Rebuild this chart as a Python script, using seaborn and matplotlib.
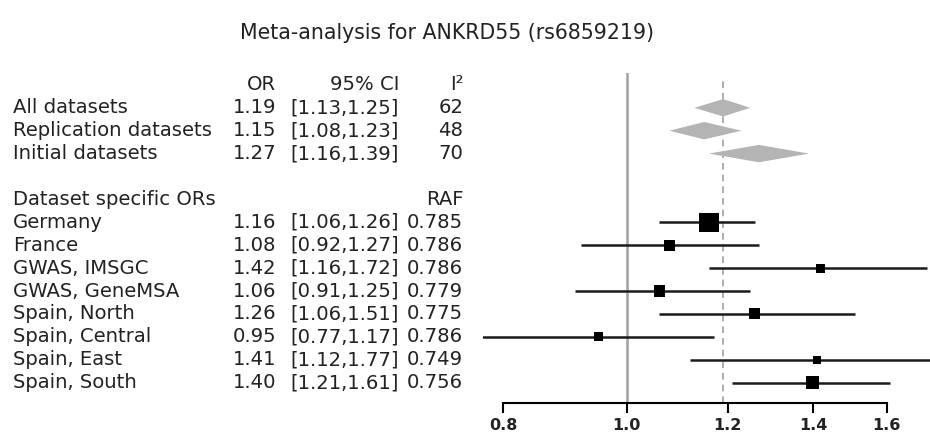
import matplotlib
matplotlib.use("Agg")
import matplotlib.pyplot as plt
import matplotlib.transforms as mtransforms
from matplotlib.ticker import NullLocator
import numpy as np
import pandas as pd
import seaborn as sns

# summary estimates (diamonds)
summary_labels = ["All datasets", "Replication datasets", "Initial datasets"]
summary_or = [1.19, 1.15, 1.27]
summary_lo = [1.13, 1.08, 1.16]
summary_hi = [1.25, 1.23, 1.39]
summary_i2 = [62, 48, 70]

# dataset specific estimates (boxes)
study_labels = ["Germany", "France", "GWAS, IMSGC", "GWAS, GeneMSA",
                "Spain, North", "Spain, Central", "Spain, East", "Spain, South"]
study_or = [1.16, 1.08, 1.42, 1.06, 1.26, 0.95, 1.41, 1.40]
study_lo = [1.06, 0.92, 1.16, 0.91, 1.06, 0.77, 1.12, 1.21]
study_hi = [1.26, 1.27, 1.72, 1.25, 1.51, 1.17, 1.77, 1.61]
study_raf = [0.785, 0.786, 0.786, 0.779, 0.775, 0.786, 0.749, 0.756]
study_weight = [32.3, 10.8, 7.2, 10.8, 10.8, 7.2, 5.7, 15.1]  # relative weight (%)

xticks = [0.8, 1.0, 1.2, 1.4, 1.6]

sns.set_theme(style="white")
plt.rcParams['font.family'] = ['DejaVu Sans']

fig = plt.figure(figsize=(9.3, 4.37), dpi=100)
ax = fig.add_axes([0.5194, 0.0778, 0.4806, 0.7552])

summary_rows = np.arange(1, 1 + len(summary_labels))
study_rows = np.arange(6, 6 + len(study_labels))

# reference lines
ax.axvline(1.0, color="#a0a0a0", lw=1.8, zorder=1)
ax.axvline(summary_or[0], ymax=0.985, color="#a0a0a0", lw=1.2, ls=(0, (4, 3)), zorder=1)

# diamonds
for r, o, lo, hi in zip(summary_rows, summary_or, summary_lo, summary_hi):
    h = 0.38
    ax.fill([lo, o, hi, o], [r, r - h, r, r + h], color="#b4b4b4", lw=0, zorder=2)

# CI lines
ax.hlines(study_rows, study_lo, study_hi, color="#1a1a1a", lw=1.8, zorder=3)

df = pd.DataFrame({"OR": study_or, "row": study_rows, "weight": study_weight})
sns.scatterplot(data=df, x="OR", y="row", size="weight", sizes=(0, 190),
                size_norm=(0, max(study_weight)), marker="s", color="black",
                edgecolor="black", linewidth=0, legend=False, ax=ax, zorder=4)

ax.set_xscale("log")
ax.set_xlim(0.771, 1.73)
ax.set_ylim(13.89, -0.52)
ax.set_xticks(xticks)
ax.set_xticklabels([f"{t:.1f}" for t in xticks], fontweight="bold")
ax.xaxis.set_minor_locator(NullLocator())
ax.set_yticks([])
ax.set_xlabel("")
ax.set_ylabel("")
for s in ["left", "right", "top"]:
    ax.spines[s].set_visible(False)
ax.spines["bottom"].set_bounds(0.8, 1.6)
ax.spines["bottom"].set_color("black")
ax.spines["bottom"].set_linewidth(1.5)
ax.tick_params(axis="x", bottom=True, direction="out", length=7, width=1.5,
               color="black", labelsize=11.5, pad=3.5, labelcolor="#222222")

# text table
tr = mtransforms.blended_transform_factory(fig.transFigure, ax.transData)
fs = 14.1
tc = "#222222"
x_lab, x_or, x_ci, x_last = 0.014, 0.2968, 0.429, 0.498

def row_text(r, label, or_txt, ci_txt, last_txt):
    kw = dict(transform=tr, fontsize=fs, color=tc, va="center")
    if label:
        ax.text(x_lab, r, label, ha="left", **kw)
    if or_txt:
        ax.text(x_or, r, or_txt, ha="right", **kw)
    if ci_txt:
        ax.text(x_ci, r, ci_txt, ha="right", **kw)
    if last_txt:
        ax.text(x_last, r, last_txt, ha="right", **kw)

row_text(0, "", "OR", "95% CI", "I²")
for r, lab, o, lo, hi, i2 in zip(summary_rows, summary_labels, summary_or,
                                 summary_lo, summary_hi, summary_i2):
    row_text(r, lab, f"{o:.2f}", f"[{lo:.2f},{hi:.2f}]", str(i2))
row_text(5, "Dataset specific ORs", "", "", "RAF")
for r, lab, o, lo, hi, raf in zip(study_rows, study_labels, study_or,
                                  study_lo, study_hi, study_raf):
    row_text(r, lab, f"{o:.2f}", f"[{lo:.2f},{hi:.2f}]", f"{raf:.3f}")

fig.text(0.481, 0.9245, "Meta-analysis for ANKRD55 (rs6859219)", ha="center",
         va="center", fontsize=14.8, color=tc)

fig.savefig("out.png", dpi=100)
